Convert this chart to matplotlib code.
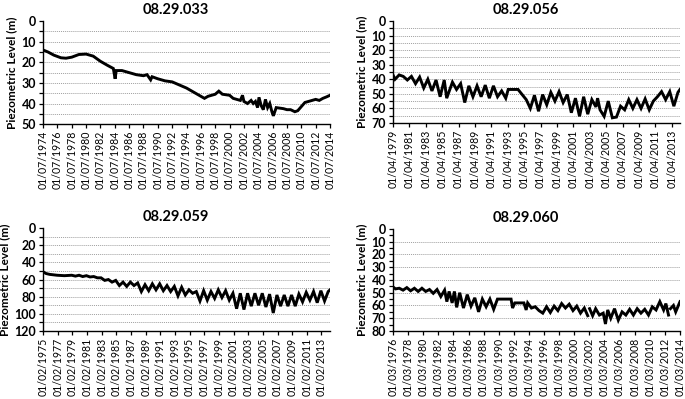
import numpy as np
import matplotlib
matplotlib.use("Agg")
import matplotlib.pyplot as plt

plt.rcParams['font.family'] = ['Lato', 'DejaVu Sans']

# station names
titles = ['08.29.033', '08.29.056', '08.29.059', '08.29.060']

# 08.29.033 (decimal year, level m)
p1_years = [1974.5, 1975.2, 1976.0, 1977.0, 1977.7, 1978.5, 1979.5, 1980.5, 1981.5, 1982.5,
            1983.5, 1984.3, 1984.55, 1984.7, 1985.5, 1986.5, 1987.5, 1988.5, 1989.0, 1989.5,
            1989.7, 1990.5, 1991.5, 1992.5, 1993.5, 1994.5, 1995.5, 1996.5, 1997.0, 1997.5,
            1998.5, 1999.0, 1999.5, 2000.5, 2001.0, 2002.0, 2002.3, 2002.5, 2003.0, 2003.5,
            2003.8, 2004.1, 2004.4, 2004.6, 2004.9, 2005.2, 2005.5, 2005.8, 2006.1, 2006.4,
            2006.6, 2007.0, 2008.0, 2008.5, 2009.0, 2009.6, 2010.0, 2010.5, 2011.0, 2012.0,
            2012.5, 2013.0, 2013.5, 2014.0, 2014.5]
p1_level = [14, 15, 16.5, 17.8, 18, 17.5, 16.2, 16, 17, 19.5,
            21.5, 23, 28, 24, 24, 25, 26, 26.5, 26, 28.5,
            27, 28, 29, 29.5, 31, 32.5, 34.5, 36.5, 37.5, 36.5,
            35.5, 34, 35.5, 36, 37.5, 38.5, 36, 39, 40, 38.5,
            40, 39, 42, 37, 41, 43, 38, 42, 40, 44,
            46, 42, 42.5, 43, 43, 44, 43.5, 41.5, 39.5, 38.5,
            38, 38.5, 37.5, 36.8, 36]

# 08.29.056
p2_years = [1979.25, 1979.5, 1980.0, 1980.5, 1981.0, 1981.5, 1982.0, 1982.5, 1983.0, 1983.5,
            1984.0, 1984.5, 1985.0, 1985.5, 1985.8, 1986.5, 1987.0, 1987.5, 1988.0, 1988.5,
            1989.0, 1989.5, 1990.0, 1990.5, 1991.0, 1991.5, 1992.0, 1992.5, 1993.0, 1993.3,
            1994.5, 1995.5, 1996.0, 1996.5, 1997.0, 1997.5, 1998.0, 1998.5, 1999.0, 1999.5,
            2000.0, 2000.5, 2001.0, 2001.5, 2002.0, 2002.5, 2003.0, 2003.5, 2004.0, 2004.2,
            2004.5, 2005.0, 2005.5, 2006.0, 2006.5, 2007.0, 2007.5, 2008.0, 2008.5, 2009.0,
            2009.5, 2010.0, 2010.5, 2011.0, 2011.5, 2012.0, 2012.5, 2013.0, 2013.5, 2014.0,
            2014.25]
p2_level = [37, 40, 37, 38, 40.5, 38, 43, 38.5, 46, 40,
            48, 40.5, 52, 40.5, 53, 42, 47, 43, 56, 44.5,
            52, 44.5, 52, 44, 53, 44.5, 52, 48, 53, 47,
            47, 54, 60, 51, 62, 50.5, 57.5, 49, 55, 48.5,
            56, 50.5, 63, 53, 65.5, 52, 64, 54, 59, 53,
            61, 65.5, 55, 66.5, 66, 58.5, 61, 54, 60, 54,
            60, 53.5, 61, 55, 52, 48.5, 54, 48.5, 58.5, 49,
            47]

# 08.29.059
p3_years = [1975.08, 1975.5, 1976.0, 1977.0, 1978.0, 1979.0, 1979.5, 1980.0, 1980.5, 1981.0,
            1981.5, 1982.0, 1982.5, 1983.0, 1983.5, 1984.0, 1984.5, 1985.0, 1985.5, 1986.0,
            1986.5, 1987.0, 1987.5, 1988.0, 1988.5, 1989.0, 1989.5, 1990.0, 1990.5, 1991.0,
            1991.5, 1992.0, 1992.5, 1993.0, 1993.5, 1994.0, 1994.5, 1995.0, 1995.5, 1996.0,
            1996.5, 1997.0, 1997.5, 1998.0, 1998.5, 1999.0, 1999.5, 2000.0, 2000.5, 2001.0,
            2001.5, 2002.0, 2002.5, 2003.0, 2003.5, 2004.0, 2004.5, 2005.0, 2005.5, 2006.0,
            2006.5, 2007.0, 2007.5, 2008.0, 2008.5, 2009.0, 2009.5, 2010.0, 2010.5, 2011.0,
            2011.5, 2012.0, 2012.5, 2013.0, 2013.5, 2014.0, 2014.25]
p3_level = [51, 53, 54, 55, 55.5, 55, 56, 55, 56.5, 55.5,
            57, 56.5, 58, 58, 61, 60, 63, 61, 67, 63,
            68, 63, 67, 64, 74, 66, 73, 65, 72, 65,
            73, 67, 74, 68, 79, 69, 78, 72, 76, 74,
            85, 73, 84, 74, 82, 72, 81, 73, 84, 76,
            94, 76, 95, 76, 91, 76, 90, 76, 92, 77,
            99, 78, 91, 78, 91, 78, 91, 77, 86, 75,
            84, 74, 87, 73, 85, 74, 72]

# 08.29.060 (nan = missing record)
p4_years = [1976.17, 1976.5, 1977.0, 1977.5, 1978.0, 1978.5, 1979.0, 1979.5, 1980.0, 1980.5,
            1981.0, 1981.5, 1982.0, 1982.5, 1983.0, 1983.3, 1983.6, 1984.0, 1984.3, 1984.6,
            1985.0, 1985.5, 1986.0, 1986.5, 1987.0, 1987.5, 1988.0, 1988.5, 1989.0, 1989.5,
            1990.0, 1991.8, 1992.0, 1992.3, 1993.5, 1993.8, 1994.0, 1994.5, 1995.0, 1995.5,
            1996.0, 1996.5, 1997.0, 1997.5, 1998.0, 1998.5, 1999.0, 1999.5, 2000.0, 2000.5,
            2001.0, 2001.5, 2001.95, 2002.1, 2002.2, 2002.6, 2003.0, 2003.5, 2004.0, 2004.3,
            2004.6, 2005.0, 2005.5, 2006.0, 2006.5, 2007.0, 2007.5, 2008.0, 2008.5, 2009.0,
            2009.5, 2010.0, 2010.5, 2011.0, 2011.5, 2012.0, 2012.3, 2012.65, 2012.75, 2012.9,
            2013.3, 2013.6, 2014.17]
p4_level = [45.5, 47, 46.5, 48, 46, 48.5, 46.5, 49, 46.5, 49,
            47.5, 50.5, 47.5, 53, 48, 57, 49, 58, 49, 61.5,
            50, 62, 51.5, 60.5, 54, 65, 55, 61, 55, 63,
            55, 55, 62, 58, 58, 63.5, 58, 62, 61, 64,
            66, 61, 65.5, 60.5, 64, 58.5, 62, 59, 64, 60.5,
            66, 62, 68, np.nan, 62.5, 68, 62.5, 67.5, 66, 74.5,
            63.5, 70, 62.5, 71.5, 65, 67.5, 63, 67.5, 62.5, 66,
            63, 67.5, 61, 63.5, 57, 63.5, 58.5, 67.5, np.nan, 62.5,
            60, 65, 57]

# axis setup per panel: y max, label step, minor step, grid step, tick month, tick years, x range
ymax = [50, 70, 120, 80]
ystep = [10, 10, 20, 10]
yminor = [5, 5, 10, 5]
ygrid = [5, 5, 10, 10]
tick_month = [7, 4, 2, 3]
tick_years = [list(range(1974, 2015, 2)), list(range(1979, 2014, 2)),
              list(range(1975, 2014, 2)), list(range(1976, 2015, 2))]
xlims = [(1974.5, 2014.5), (1979.25, 2014.25), (1975.08, 2014.25), (1976.17, 2014.17)]

series = [(p1_years, p1_level), (p2_years, p2_level), (p3_years, p3_level), (p4_years, p4_level)]

# axes boxes in figure fraction
boxes = [[0.0628, 0.689, 0.419, 0.258],
         [0.5737, 0.692, 0.419, 0.255],
         [0.0628, 0.1704, 0.419, 0.258],
         [0.5737, 0.1704, 0.419, 0.256]]

fig = plt.figure(figsize=(6.85, 3.99), dpi=100)

for i in range(4):
    ax = fig.add_axes(boxes[i])
    xs, ys = series[i]
    ax.plot(xs, ys, color='black', lw=2.1, solid_joinstyle='miter')

    for g in np.arange(ygrid[i], ymax[i], ygrid[i]):
        ax.axhline(g, color='#a0a0a0', lw=0.7, ls=(0, (1, 1)), zorder=0)

    ax.set_ylim(ymax[i], 0)
    ax.set_yticks(np.arange(0, ymax[i] + 1, ystep[i]))
    ax.set_yticks(np.arange(0, ymax[i] + 1, yminor[i]), minor=True)
    ax.set_xlim(*xlims[i])
    m = tick_month[i]
    ax.set_xticks([y + (m - 1) / 12 for y in tick_years[i]])
    ax.set_xticklabels(['01/%02d/%d' % (m, y) for y in tick_years[i]], rotation=90,
                       fontsize=7.6)
    for lab in ax.get_yticklabels():
        lab.set_fontweight('bold')
        lab.set_fontsize(9)

    for s in ['top', 'right']:
        ax.spines[s].set_visible(False)
    for s in ['left', 'bottom']:
        ax.spines[s].set_linewidth(1.0)
    ax.tick_params(axis='both', which='both', direction='out', length=3, width=0.9, pad=2)
    ax.tick_params(axis='x', which='minor', length=0)

    ax.set_ylabel('Piezometric Level (m)', fontsize=8.5, fontweight='bold', labelpad=3)
    ax.set_title(titles[i], fontsize=10.5, fontweight='bold', x=0.463, pad=5)

fig.savefig('out.png', dpi=100)
